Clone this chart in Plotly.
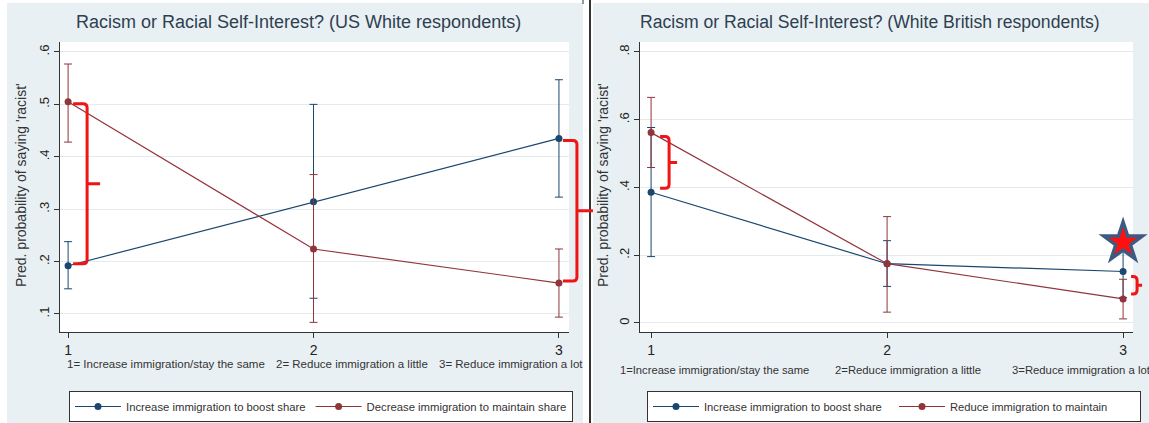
import plotly.graph_objects as go

# ---------------- data ----------------
x_levels = [1, 2, 3]
x_ticktext = ["1", "2", "3"]

us_boost = [0.192, 0.314, 0.435]
us_boost_lo = [0.148, 0.130, 0.323]
us_boost_hi = [0.238, 0.500, 0.547]
us_maintain = [0.505, 0.224, 0.159]
us_maintain_lo = [0.428, 0.084, 0.094]
us_maintain_hi = [0.577, 0.366, 0.224]

uk_boost = [0.386, 0.175, 0.152]
uk_boost_lo = [0.196, 0.108, 0.075]
uk_boost_hi = [0.577, 0.243, 0.238]
uk_maintain = [0.562, 0.175, 0.071]
uk_maintain_lo = [0.459, 0.032, 0.012]
uk_maintain_hi = [0.666, 0.314, 0.129]

us_yticks = [0.1, 0.2, 0.3, 0.4, 0.5, 0.6]
us_yticktext = [".1", ".2", ".3", ".4", ".5", ".6"]
uk_yticks = [0.0, 0.2, 0.4, 0.6, 0.8]
uk_yticktext = ["0", ".2", ".4", ".6", ".8"]

us_title = "Racism or Racial Self-Interest? (US White respondents)"
uk_title = "Racism or Racial Self-Interest? (White British respondents)"
ytitle = "Pred. probability of saying 'racist'"
us_xnotes = ["1= Increase immigration/stay the same", "2= Reduce immigration a little", "3= Reduce immigration a lot"]
uk_xnotes = ["1=Increase immigration/stay the same", "2=Reduce immigration a little", "3=Reduce immigration a lot"]
us_names = ["Increase immigration to boost share", "Decrease immigration to maintain share"]
uk_names = ["Increase immigration to boost share", "Reduce immigration to maintain"]

# ---------------- layout geometry ----------------
W, H = 1149, 423
NAVY = "#1a476f"
MAROON = "#90353b"
PANEL = "#e9f0f3"
GRID = "#e4ebee"
RED = "#f01515"
FONT = "Liberation Sans"

def dom_x(a, b):
    return [a / W, b / W]

def dom_y(top, bottom):
    return [(H - bottom) / H, (H - top) / H]

ax_left = dict(xd=dom_x(60, 569), yd=dom_y(42, 332), xr=[0.967, 3.041], yr=[0.0656, 0.619])
ax_right = dict(xd=dom_x(640, 1133), yd=dom_y(42, 332), xr=[0.953, 3.042], yr=[-0.0266, 0.8295])


def to_paper(ax, xv, yv, dx_px=0.0, dy_px=0.0):
    xd, yd, xr, yr = ax["xd"], ax["yd"], ax["xr"], ax["yr"]
    px = xd[0] + (xv - xr[0]) / (xr[1] - xr[0]) * (xd[1] - xd[0]) + dx_px / W
    py = yd[0] + (yv - yr[0]) / (yr[1] - yr[0]) * (yd[1] - yd[0]) + dy_px / H
    return px, py


def bracket(ax, xv, ytop, ybot, h0, h1, tip, inset=2.0):
    # curly-brace style bracket to the right of a category, built from data values
    xa, yt = to_paper(ax, xv, ytop, h0, -inset)
    xv_, _ = to_paper(ax, xv, ytop, h1)
    _, yb = to_paper(ax, xv, ybot, 0, inset)
    xt, _ = to_paper(ax, xv, ytop, tip)
    ym = (yt + yb) / 2
    r = 4.0
    rx, ry = r / W, r / H
    p = (f"M {xa},{yt} L {xv_ - rx},{yt} Q {xv_},{yt} {xv_},{yt - ry} "
         f"L {xv_},{yb + ry} Q {xv_},{yb} {xv_ - rx},{yb} L {xa},{yb} "
         f"M {xv_},{ym} L {xt},{ym}")
    return dict(type="path", path=p, xref="paper", yref="paper",
                line=dict(color=RED, width=3), layer="above")


def err(y, lo, hi, color):
    return dict(type="data", symmetric=False,
                array=[h - v for v, h in zip(y, hi)],
                arrayminus=[v - l for v, l in zip(y, lo)],
                color=color, thickness=1, width=4)


fig = go.Figure()

def add_series(xa, ya, y, lo, hi, color, name, legend):
    fig.add_trace(go.Scatter(
        x=x_levels, y=y, mode="lines+markers", name=name,
        line=dict(color=color, width=1.2),
        marker=dict(color=color, size=7),
        error_y=err(y, lo, hi, color),
        xaxis=xa, yaxis=ya, legend=legend, cliponaxis=False))

add_series("x", "y", us_boost, us_boost_lo, us_boost_hi, NAVY, us_names[0], "legend")
add_series("x", "y", us_maintain, us_maintain_lo, us_maintain_hi, MAROON, us_names[1], "legend")
add_series("x2", "y2", uk_boost, uk_boost_lo, uk_boost_hi, NAVY, uk_names[0], "legend2")
add_series("x2", "y2", uk_maintain, uk_maintain_lo, uk_maintain_hi, MAROON, uk_names[1], "legend2")

# star highlighting the UK "reduce a lot" gap (placed at the top of the CI)
fig.add_trace(go.Scatter(x=[x_levels[2]], y=[uk_boost_hi[2]], mode="markers",
                         marker=dict(symbol="star", size=37, color="#3d5a80"),
                         xaxis="x2", yaxis="y2", showlegend=False, cliponaxis=False, hoverinfo="skip"))
fig.add_trace(go.Scatter(x=[x_levels[2]], y=[uk_boost_hi[2]], mode="markers",
                         marker=dict(symbol="star", size=21.5, color="#ff1010"),
                         xaxis="x2", yaxis="y2", showlegend=False, cliponaxis=False, hoverinfo="skip"))

axis_common = dict(showline=True, linecolor="#333", linewidth=1.3, ticks="outside", ticklen=5,
                   tickcolor="#333", zeroline=False,
                   tickfont=dict(family=FONT, size=14, color="#222"))

fig.update_layout(
    xaxis=dict(domain=ax_left["xd"], range=ax_left["xr"], tickvals=x_levels, ticktext=x_ticktext,
               showgrid=False, anchor="y", **axis_common),
    yaxis=dict(domain=ax_left["yd"], range=ax_left["yr"], tickvals=us_yticks, ticktext=us_yticktext,
               showgrid=True, gridcolor=GRID, gridwidth=1, tickangle=-90, anchor="x", **axis_common),
    xaxis2=dict(domain=ax_right["xd"], range=ax_right["xr"], tickvals=x_levels, ticktext=x_ticktext,
                showgrid=False, anchor="y2", **axis_common),
    yaxis2=dict(domain=ax_right["yd"], range=ax_right["yr"], tickvals=uk_yticks, ticktext=uk_yticktext,
                showgrid=True, gridcolor=GRID, gridwidth=1, tickangle=-90, anchor="x2", **axis_common),
)
fig.update_yaxes(tickfont=dict(size=13))

fig.update_layout(
    width=W, height=H, margin=dict(l=0, r=0, t=0, b=0),
    paper_bgcolor="white", plot_bgcolor="white",
    font=dict(family=FONT, color="#333"),
    legend=dict(orientation="h", x=69 / W, y=(H - 391) / H, xanchor="left", yanchor="top",
                bgcolor="white", bordercolor="#333", borderwidth=1,
                font=dict(family=FONT, size=11.3, color="#333"),
                itemwidth=46),
    legend2=dict(orientation="h", x=647 / W, y=(H - 391) / H, xanchor="left", yanchor="top",
                 bgcolor="white", bordercolor="#333", borderwidth=1,
                 font=dict(family=FONT, size=11.2, color="#333"),
                 itemwidth=46, entrywidth=185, entrywidthmode="pixels"),
    showlegend=True,
)

shapes = [
    dict(type="rect", xref="paper", yref="paper", x0=7 / W, x1=583 / W, y0=0, y1=(H - 3) / H,
         fillcolor=PANEL, line=dict(width=0), layer="below"),
    dict(type="rect", xref="paper", yref="paper", x0=593 / W, x1=1, y0=0, y1=(H - 3) / H,
         fillcolor=PANEL, line=dict(width=0), layer="below"),
    dict(type="rect", xref="paper", yref="paper", x0=ax_left["xd"][0], x1=ax_left["xd"][1],
         y0=ax_left["yd"][0], y1=ax_left["yd"][1], fillcolor="white", line=dict(width=0), layer="below"),
    dict(type="rect", xref="paper", yref="paper", x0=ax_right["xd"][0], x1=ax_right["xd"][1],
         y0=ax_right["yd"][0], y1=ax_right["yd"][1], fillcolor="white", line=dict(width=0), layer="below"),
    dict(type="line", xref="paper", yref="paper", x0=590 / W, x1=590 / W, y0=0, y1=1,
         line=dict(color="#333", width=2)),
    dict(type="line", xref="paper", yref="paper", x0=583 / W, x1=583 / W, y0=(H - 4) / H, y1=1,
         line=dict(color="#333", width=1)),
    bracket(ax_left, x_levels[0], us_maintain[0], us_boost[0], 5, 19, 32),
    bracket(ax_left, x_levels[2], us_boost[2], us_maintain[2], 4, 18, 34),
    bracket(ax_right, x_levels[0], uk_maintain[0], uk_boost[0], 9, 18, 26, inset=4),
    bracket(ax_right, x_levels[2], uk_boost[2], uk_maintain[2], 8, 14, 19, inset=5),
]
fig.update_layout(shapes=shapes)

ann = []
def text(x, y, s, size, color="#333", angle=0, xanchor="center"):
    ann.append(dict(x=x / W, y=(H - y) / H, xref="paper", yref="paper", text=s, showarrow=False,
                    font=dict(family=FONT, size=size, color=color), textangle=angle,
                    xanchor=xanchor, yanchor="middle"))

text(298, 22, us_title, 18, "#2e3f50")
text(870, 22, uk_title, 17.6, "#2e3f50")
text(21, 185, ytitle, 14, "#333", -90)
text(603, 185, ytitle, 14, "#333", -90)
text(65, 364, us_xnotes[0], 11.5, "#333", xanchor="left")
text(274, 364, us_xnotes[1], 11.5, "#333", xanchor="left")
text(437, 364, us_xnotes[2], 11.5, "#333", xanchor="left")
text(618, 370, uk_xnotes[0], 11.2, "#333", xanchor="left")
text(833, 370, uk_xnotes[1], 11.3, "#333", xanchor="left")
text(1010, 370, uk_xnotes[2], 11.3, "#333", xanchor="left")
fig.update_layout(annotations=ann)

fig.write_html("out.html", config={"displayModeBar": False},
               post_script="document.body.style.margin='0';document.body.style.overflow='hidden';")
